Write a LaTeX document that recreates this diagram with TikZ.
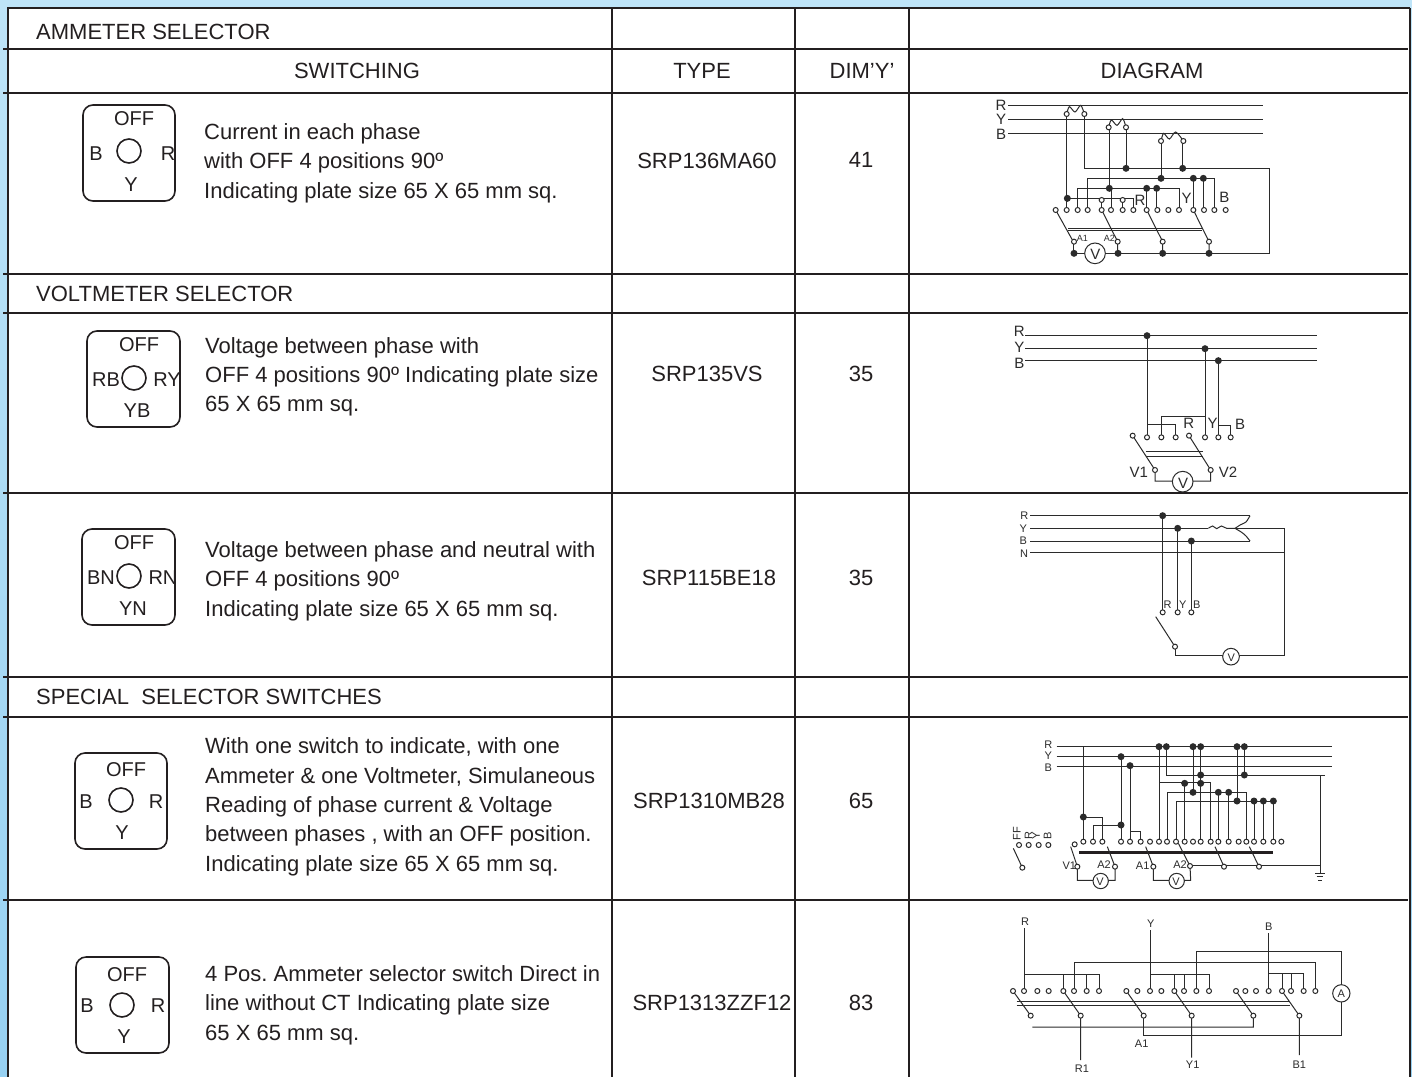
\documentclass[tikz,border=0pt]{standalone}
\usepackage{fontspec}
\setmainfont{Liberation Sans}
\frenchspacing
\definecolor{ink}{HTML}{231F20}
\definecolor{wire}{HTML}{2B2B2B}
\definecolor{bgtop}{HTML}{BEE4F8}
\definecolor{bgbot}{HTML}{97D1F2}
\newcommand{\termrow}[2]{\foreach \xx in {#2}{\filldraw[termst] (\xx,#1) circle[radius=7.5];}}
\newcommand{\termat}[1]{\foreach \pp in {#1}{\filldraw[termst] \pp circle[radius=7.5];}}
\newcommand{\dotat}[1]{\foreach \pp in {#1}{\fill[wire] \pp circle[radius=10.5];}}
\tikzset{
  grid/.style={draw=ink,line width=2pt},
  wr/.style={draw=wire,line width=1pt},
  termst/.style={draw=wire,fill=white,line width=1pt},
  big/.style={font=\fontsize{22}{26}\selectfont,text=ink,inner sep=0pt,text height=14.4pt,text depth=0pt},
  bigl/.style={big,anchor=west},
  key/.style={font=\fontsize{20}{24}\selectfont,text=ink,inner sep=0pt,text height=14.4pt,text depth=0pt},
  keybox/.style={draw=ink,line width=1.6pt,rounded corners=10pt},
  keyhub/.style={draw=ink,line width=1.6pt},
  l15/.style={font=\fontsize{15}{18}\selectfont,text=wire,inner sep=0pt,text height=10.8pt,text depth=0pt},
  l11/.style={font=\fontsize{11}{13}\selectfont,text=wire,inner sep=0pt,text height=7.9pt,text depth=0pt},
  l9/.style={font=\fontsize{9}{11}\selectfont,text=wire,inner sep=0pt,text height=6.5pt,text depth=0pt},
  meter/.style={draw=wire,fill=white,line width=1pt},
  zoomcs/.style={shift={#1},x=0.33333pt,y=-0.33333pt}
}
\begin{document}
\begin{tikzpicture}[x=1pt,y=-1pt]
\useasboundingbox (0,0) rectangle (1412,1076);
\shade[top color=bgtop,bottom color=bgbot] (-2,-2) rectangle (1414,1080);
\fill[white] (7,8) rectangle (1410,1082);
% table
\draw[grid] (7,8) -- (1410,8);
\draw[grid] (7.5,8) -- (7.5,1082);
\draw[grid] (1409.5,8) -- (1409.5,1082);
\foreach \xx in {612,795,909}{\draw[grid] (\xx,8) -- (\xx,1082);}
\foreach \yy in {49,93,274,313,493,677,717,900}{\draw[grid] (3,\yy) -- (1408,\yy);}
% headings
\node[bigl] (h1) at (36,32) {AMMETER SELECTOR};
\node[big] (h2) at (357,71) {SWITCHING};
\node[big] (h3) at (702,71) {TYPE};
\node[big] (h4) at (862,71) {DIM’Y’};
\node[big] (h5) at (1152,71) {DIAGRAM};
\node[bigl] (h6) at (36,294) {VOLTMETER SELECTOR};
\node[bigl] (h7) at (36,697) {SPECIAL\ \ SELECTOR SWITCHES};
% types and dims
\node[big] (t1) at (707,161) {SRP136MA60};
\node[big] (d1) at (861,160) {41};
\node[big] (t2) at (707,374) {SRP135VS};
\node[big] (d2) at (861,374) {35};
\node[big] (t3) at (709,578) {SRP115BE18};
\node[big] (d3) at (861,578) {35};
\node[big] (t4) at (709,801) {SRP1310MB28};
\node[big] (d4) at (861,801) {65};
\node[big] (t5) at (712,1003) {SRP1313ZZF12};
\node[big] (d5) at (861,1003) {83};
% descriptions
\node[bigl] (a1) at (204,132) {Current in each phase};
\node[bigl] (a2) at (204,161) {with OFF 4 positions 90º};
\node[bigl] (a3) at (204,191) {Indicating plate size 65 X 65 mm sq.};
\node[bigl] (b1) at (205,346) {Voltage between phase with};
\node[bigl] (b2) at (205,375) {OFF 4 positions 90º Indicating plate size};
\node[bigl] (b3) at (205,404) {65 X 65 mm sq.};
\node[bigl] (c1) at (205,550) {Voltage between phase and neutral with};
\node[bigl] (c2) at (205,579) {OFF 4 positions 90º};
\node[bigl] (c3) at (205,609) {Indicating plate size 65 X 65 mm sq.};
\node[bigl] (e1) at (205,746) {With one switch to indicate, with one};
\node[bigl] (e2) at (205,776) {Ammeter \& one Voltmeter, Simulaneous};
\node[bigl] (e3) at (205,805) {Reading of phase current \& Voltage};
\node[bigl] (e4) at (205,834) {between phases , with an OFF position.};
\node[bigl] (e5) at (205,864) {Indicating plate size 65 X 65 mm sq.};
\node[bigl] (f1) at (205,974) {4 Pos. Ammeter selector switch Direct in};
\node[bigl] (f2) at (205,1003) {line without CT Indicating plate size};
\node[bigl] (f3) at (205,1033) {65 X 65 mm sq.};
% key plates
\draw[keybox] (83,105) rectangle (175,201);
\draw[keyhub] (129,151) circle[radius=12];
\node[key] (k1o) at (134,118) {OFF};
\node[key] (k1b) at (96,153) {B};
\node[key] (k1r) at (168,153) {R};
\node[key] (k1y) at (131,184) {Y};
\draw[keybox] (87,331) rectangle (180,427);
\draw[keyhub] (134,378) circle[radius=12];
\node[key] (k2o) at (139,344) {OFF};
\node[key] (k2b) at (106,379) {RB};
\node[key] (k2r) at (167,379) {RY};
\node[key] (k2y) at (137,410) {YB};
\draw[keybox] (82,529) rectangle (175,625);
\draw[keyhub] (129,576) circle[radius=12];
\node[key] (k3o) at (134,542) {OFF};
\node[key] (k3b) at (101,577) {BN};
\node[key] (k3r) at (163,577) {RN};
\node[key] (k3y) at (133,608) {YN};
\draw[keybox] (75,753) rectangle (167,849);
\draw[keyhub] (121,800) circle[radius=12];
\node[key] (k4o) at (126,769) {OFF};
\node[key] (k4b) at (86,801) {B};
\node[key] (k4r) at (156,801) {R};
\node[key] (k4y) at (122,832) {Y};
\draw[keybox] (76,957) rectangle (169,1053);
\draw[keyhub] (122,1005) circle[radius=12];
\node[key] (k5o) at (127,974) {OFF};
\node[key] (k5b) at (87,1005) {B};
\node[key] (k5r) at (158,1005) {R};
\node[key] (k5y) at (124,1036) {Y};
% diagram 1
\begin{scope}[zoomcs={(980,90)}]
\foreach \yy in {47,87,130}{\draw[wr] (85,\yy) -- (850,\yy);}
\node[l15] (p1r) at (63,44) {R};
\node[l15] (p1y) at (63,88) {Y};
\node[l15] (p1b) at (63,131) {B};
\draw[wr] plot[smooth] coordinates {(260,72) (268,50) (285,66) (302,46) (313,72)};
\draw[wr] plot[smooth] coordinates {(386,112) (394,90) (411,106) (428,86) (438,112)};
\draw[wr] plot[smooth] coordinates {(543,153) (551,130) (568,147) (587,126) (610,153)};
\draw[wr] (260,72) -- (260,360);
\draw[wr] (260,325) -- (460,325) -- (460,360);
\draw[wr] (313,72) -- (313,235) -- (868,235) -- (868,490) -- (280,490) -- (280,455);
\draw[wr] (438,112) -- (438,235);
\draw[wr] (388,112) -- (388,295) -- (393,295) -- (393,360);
\draw[wr] (293,360) -- (293,295) -- (597,295) -- (597,360);
\draw[wr] (500,295) -- (500,360);
\draw[wr] (530,295) -- (530,360);
\draw[wr] (543,153) -- (543,265);
\draw[wr] (323,360) -- (323,265) -- (703,265) -- (703,360);
\draw[wr] (640,265) -- (640,360);
\draw[wr] (670,265) -- (670,360);
\draw[wr] (608,153) -- (608,235);
\draw[wr] (365,330) -- (365,360);
\draw[wr] (428,330) -- (428,360);
\draw[wr] (227,360) -- (280,455);
\draw[wr] (365,360) -- (413,455) -- (413,490);
\draw[wr] (500,360) -- (548,455) -- (548,490);
\draw[wr] (640,360) -- (687,455) -- (687,490);
\draw[wr] (265,415) -- (665,415);
\draw[wr] (265,422) -- (665,422);
\dotat{(438,235),(608,235),(388,295),(500,295),(530,295),(543,265),(640,265),(670,265),(262,325),(282,490),(414,490),(548,490),(687,490)}
\termrow{360}{227,260,293,323,365,393,428,460,500,532,565,597,640,672,703,737}
\termat{(365,330),(428,330),(260,72),(313,72),(386,112),(438,112),(543,153),(610,153),(282,455),(413,455),(548,455),(687,455)}
\filldraw[meter] (345,490) circle[radius=31];
\node[l15] (m1) at (346,491) {V};
\node[l9] (p1a1) at (307,445) {A1};
\node[l9] (p1a2) at (388,445) {A2};
\node[l15] (p1lr) at (480,330) {R};
\node[l15] (p1ly) at (620,325) {Y};
\node[l15] (p1lb) at (733,322) {B};
\end{scope}
% diagram 2
\begin{scope}[zoomcs={(1000,315)}]
\draw[wr] (75,62) -- (950,62);
\draw[wr] (75,101) -- (950,101);
\draw[wr] (75,137) -- (950,137);
\node[l15] (p2r) at (58,48) {R};
\node[l15] (p2y) at (58,96) {Y};
\node[l15] (p2b) at (58,145) {B};
\draw[wr] (441,62) -- (441,367);
\draw[wr] (615,101) -- (615,367);
\draw[wr] (655,137) -- (655,367);
\draw[wr] (441,327) -- (527,327) -- (527,367);
\draw[wr] (484,367) -- (484,305) -- (615,305);
\draw[wr] (655,331) -- (692,331) -- (692,367);
\draw[wr] (398,362) -- (465,465) -- (465,498) -- (518,498);
\draw[wr] (567,362) -- (632,465) -- (632,498) -- (578,498);
\draw[wr] (437,410) -- (610,410);
\draw[wr] (437,424) -- (610,424);
\dotat{(441,62),(615,101),(655,137)}
\termrow{367}{441,484,527,615,655,692}
\termat{(398,362),(567,362),(465,465),(632,465)}
\filldraw[meter] (548,500) circle[radius=31];
\node[l15] (m2) at (549,503) {V};
\node[l15] (p2v1) at (416,470) {V1};
\node[l15] (p2v2) at (684,470) {V2};
\node[l15] (p2lr) at (566,325) {R};
\node[l15] (p2ly) at (638,325) {Y};
\node[l15] (p2lb) at (720,328) {B};
\end{scope}
% diagram 3
\begin{scope}[zoomcs={(1000,500)}]
\draw[wr] (90,47) -- (750,47);
\draw[wr] (90,85) -- (625,85);
\draw[wr] plot[smooth] coordinates {(625,85) (638,78) (650,86) (664,78) (680,85) (705,85)};
\draw[wr] plot[smooth] coordinates {(750,47) (738,66) (722,74) (705,85)};
\draw[wr] plot[smooth] coordinates {(705,85) (725,97) (738,108) (750,123)};
\draw[wr] (90,123) -- (750,123);
\draw[wr] (90,157) -- (853,157);
\draw[wr] (705,85) -- (853,85) -- (853,467) -- (525,467) -- (525,440);
\draw[wr] (488,47) -- (488,337);
\draw[wr] (533,85) -- (533,337);
\draw[wr] (574,123) -- (574,337);
\draw[wr] (467,350) -- (525,440);
\dotat{(488,47),(533,85),(574,123)}
\termrow{337}{488,533,574}
\termat{(525,440)}
\filldraw[meter] (693,470) circle[radius=25];
\node[l11] (m3) at (694,472) {V};
\node[l11] (p3r) at (73,48) {R};
\node[l11] (p3y) at (70,85) {Y};
\node[l11] (p3b) at (70,123) {B};
\node[l11] (p3n) at (72,160) {N};
\node[l11] (p3lr) at (503,313) {R};
\node[l11] (p3ly) at (548,313) {Y};
\node[l11] (p3lb) at (590,313) {B};
\end{scope}
% diagram 4
\begin{scope}[zoomcs={(1000,730)}]
\draw[wr] (170,50) -- (995,50);
\draw[wr] (170,80) -- (995,80);
\draw[wr] (170,109) -- (995,109);
\node[l11] (p4r) at (145,45) {R};
\node[l11] (p4y) at (145,78) {Y};
\node[l11] (p4b) at (145,113) {B};
\draw[wr] (250,50) -- (250,335);
\draw[wr] (250,261) -- (307,261) -- (307,335);
\draw[wr] (363,80) -- (363,335);
\draw[wr] (279,335) -- (279,285) -- (363,285);
\draw[wr] (390,107) -- (390,335);
\draw[wr] (390,305) -- (422,305) -- (422,335);
\draw[wr] (477,50) -- (477,335);
\draw[wr] (477,158) -- (632,158) -- (632,335);
\draw[wr] (499,50) -- (499,135) -- (975,135);
\draw[wr] (602,50) -- (602,335);
\draw[wr] (579,50) -- (579,187);
\draw[wr] (501,335) -- (501,187) -- (739,187) -- (739,335);
\draw[wr] (655,187) -- (655,335);
\draw[wr] (686,187) -- (686,335);
\draw[wr] (554,158) -- (554,335);
\draw[wr] (711,50) -- (711,213);
\draw[wr] (528,335) -- (528,213) -- (820,213) -- (820,335);
\draw[wr] (762,213) -- (762,335);
\draw[wr] (790,213) -- (790,335);
\draw[wr] (733,50) -- (733,135);
\draw[wr] (960,135) -- (960,430);
\draw[wr] (570,406) -- (960,406);
\draw[wr] (945,430) -- (975,430);
\draw[wr] (950,440) -- (970,440);
\draw[wr] (955,450) -- (965,450);
\draw[draw=ink,line width=2.6pt] (238,367) -- (818,367);
\draw[wr] (212,350) -- (232,410) -- (232,451) -- (280,451);
\draw[wr] (322,350) -- (345,410) -- (345,451) -- (325,451);
\draw[wr] (437,350) -- (460,410) -- (460,451) -- (508,451);
\draw[wr] (535,340) -- (570,408) -- (572,451) -- (550,451);
\draw[wr] (645,350) -- (672,410);
\draw[wr] (748,350) -- (777,410);
\draw[wr] (40,355) -- (67,413);
\dotat{(477,50),(499,50),(579,50),(602,50),(711,50),(733,50),(363,80),(390,107),(602,135),(733,135),(554,160),(602,160),(579,187),(655,187),(686,187),(711,213),(762,213),(790,213),(820,213),(250,261),(363,285)}
\termrow{335}{250,279,307,363,390,422,450,477,501,528,554,579,602,632,655,686,716,739,762,790,820,844}
\termrow{345}{57,86,116,145}
\termat{(224,343),(67,413),(232,410),(345,410),(460,410),(570,408),(672,410),(777,410)}
\filldraw[meter] (302,453) circle[radius=23];
\filldraw[meter] (530,453) circle[radius=23];
\node[l11] (m4) at (300,454) {V};
\node[l11] (m5) at (528,454) {V};
\node[l11] (p4v1) at (208,408) {V1};
\node[l11] (p4a2) at (312,405) {A2};
\node[l11] (p4a1) at (428,408) {A1};
\node[l11] (p4a3) at (540,405) {A2};
\node[l11,rotate=90] (p4ff) at (50,311) {FF};
\node[l11,rotate=90] (p4lr) at (85,318) {R};
\node[l11,rotate=90] (p4ly) at (108,318) {Y};
\node[l11,rotate=90] (p4lb) at (142,318) {B};
\end{scope}
% diagram 5
\begin{scope}[zoomcs={(1000,905)}]
\draw[wr] (73,70) -- (73,258);
\draw[wr] (73,209) -- (297,209) -- (297,258);
\draw[wr] (190,209) -- (190,258);
\draw[wr] (260,209) -- (260,258);
\draw[wr] (450,75) -- (450,258);
\draw[wr] (450,209) -- (627,209) -- (627,258);
\draw[wr] (523,209) -- (523,258);
\draw[wr] (552,209) -- (552,258);
\draw[wr] (806,85) -- (806,258);
\draw[wr] (806,205) -- (911,205) -- (911,258);
\draw[wr] (846,205) -- (846,258);
\draw[wr] (873,205) -- (873,258);
\draw[wr] (222,258) -- (222,173) -- (946,173) -- (946,258);
\draw[wr] (589,258) -- (589,140) -- (1024,140) -- (1024,391) -- (431,391) -- (431,332);
\draw[wr] (39,258) -- (92,332);
\draw[wr] (190,258) -- (242,332) -- (242,465);
\draw[wr] (379,258) -- (431,332);
\draw[wr] (523,258) -- (575,332) -- (575,458);
\draw[wr] (708,258) -- (760,332) -- (760,366) -- (97,366);
\draw[wr] (846,258) -- (898,332) -- (898,450);
\draw[wr] (50,288) -- (870,288);
\draw[wr] (50,300) -- (870,300);
\termrow{258}{39,72,112,146,190,222,260,297,379,412,450,484,523,552,589,627,708,736,768,806,846,873,911,946}
\termrow{332}{92,242,431,575,760,898}
\filldraw[meter] (1024,265) circle[radius=26];
\node[l11] (m6) at (1024,266) {A};
\node[l11] (p5r) at (75,50) {R};
\node[l11] (p5y) at (452,55) {Y};
\node[l11] (p5b) at (806,65) {B};
\node[l11] (p5r1) at (246,490) {R1};
\node[l11] (p5y1) at (578,478) {Y1};
\node[l11] (p5b1) at (898,478) {B1};
\node[l11] (p5a1) at (425,415) {A1};
\end{scope}
\end{tikzpicture}
\end{document}
